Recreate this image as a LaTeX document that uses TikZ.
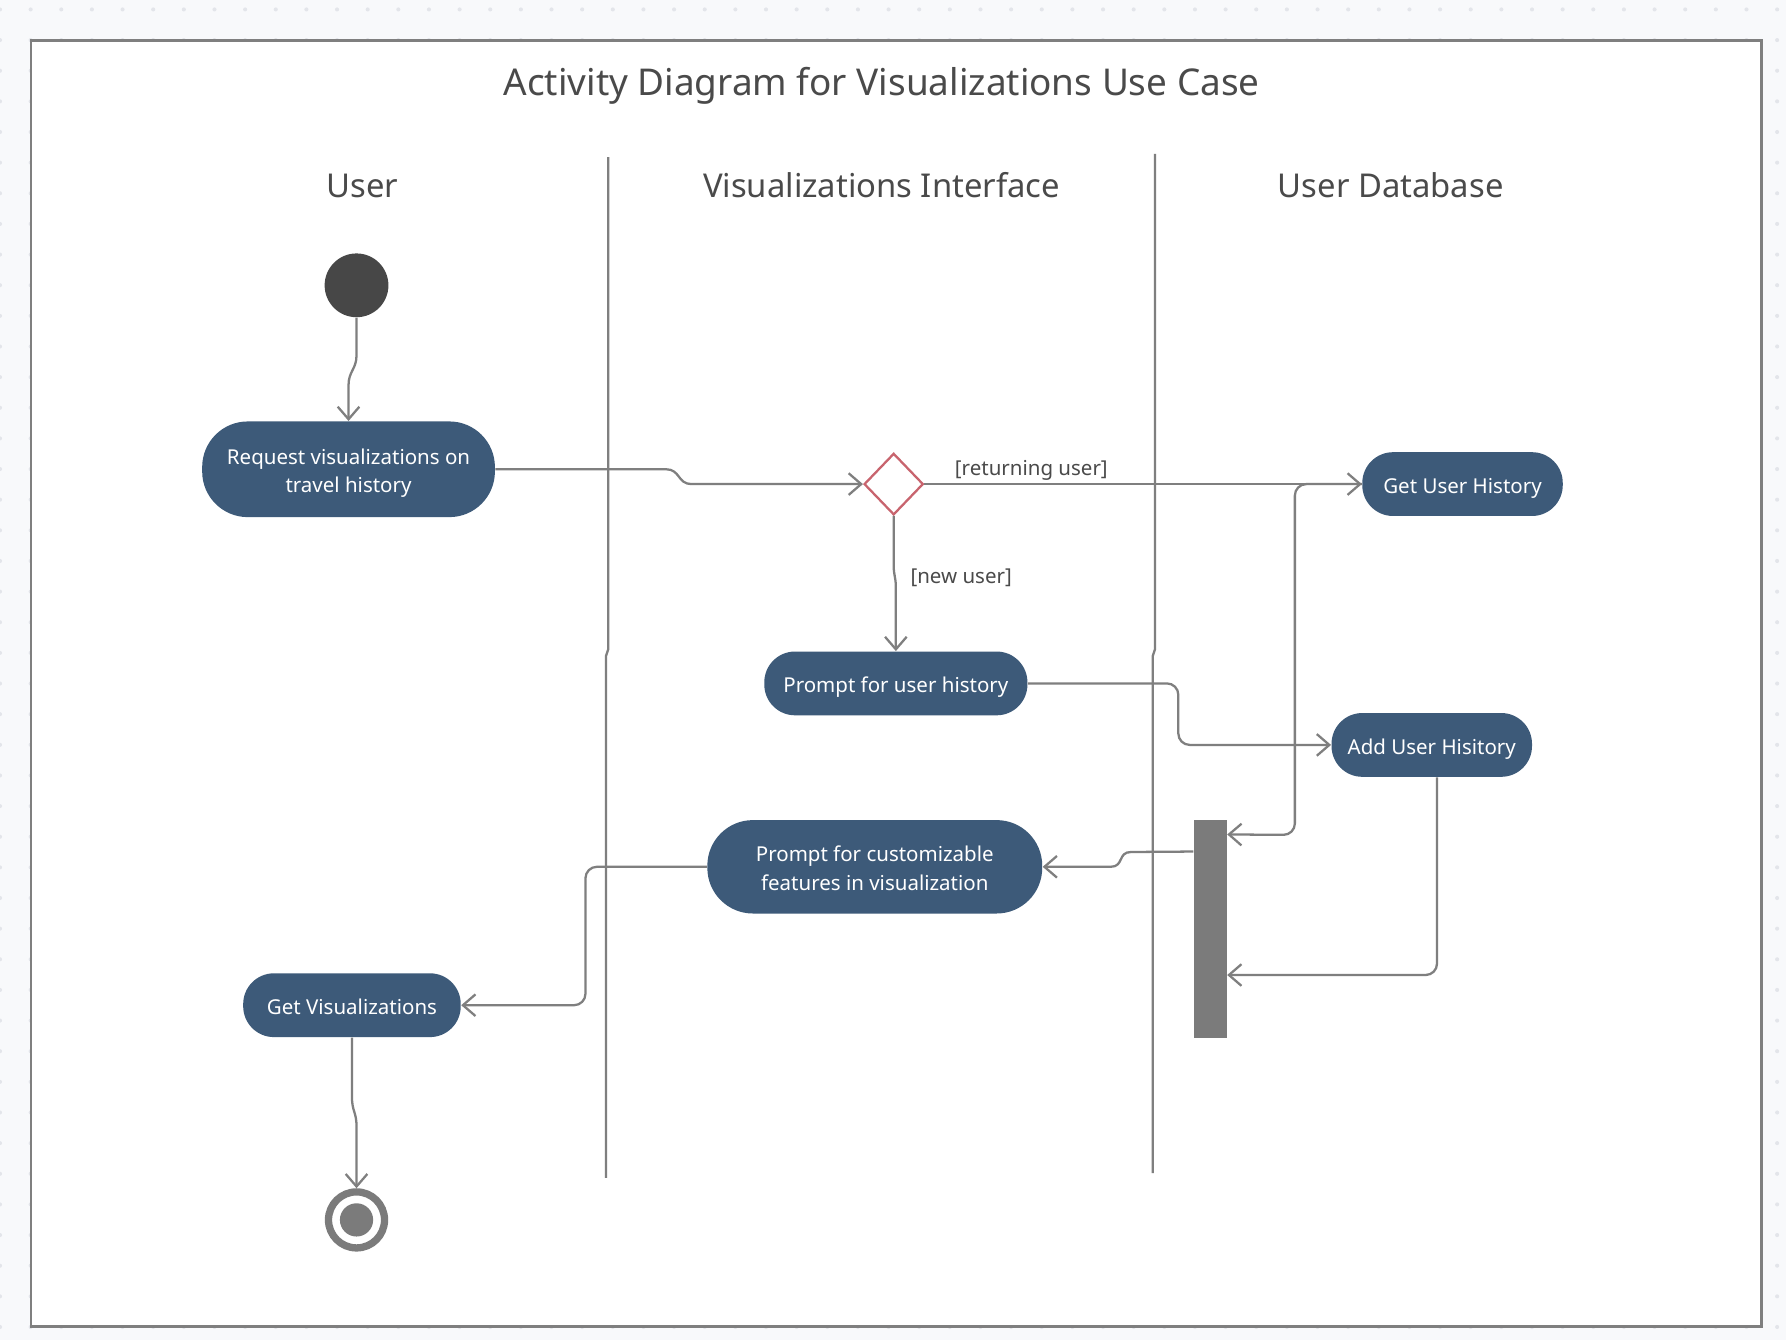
\documentclass[tikz,border=0pt]{standalone}
\usepackage{fontspec}
\setmainfont{Noto Sans}
\usetikzlibrary{arrows.meta,shapes.geometric}
\definecolor{bgc}{HTML}{F8F9FB}
\definecolor{dotc}{HTML}{E3E5EA}
\definecolor{framec}{HTML}{7F7F7F}
\definecolor{actc}{HTML}{3D5A79}
\definecolor{txtc}{HTML}{4A4A4A}
\definecolor{diac}{HTML}{C8646E}
\definecolor{startc}{HTML}{474747}
\definecolor{barc}{HTML}{7B7B7B}
\definecolor{linec}{HTML}{7F7F7F}
\newcommand{\acttext}[1]{\raisebox{-1.5pt}[\height][\depth]{\begin{tabular}{@{}c@{}}#1\end{tabular}}}
\begin{document}
\begin{tikzpicture}[x=0.5pt,y=-0.5pt,
  act/.style={rectangle, fill=actc, text=white, inner sep=0pt,
    font=\fontsize{9}{12.5}\selectfont},
  conn/.style={draw=linec, line width=1pt, -{Straight Barb[length=5.5pt,width=9.5pt]}},
  lane/.style={draw=linec, line width=1pt},
  header/.style={text=txtc, inner sep=0pt, anchor=base, font=\fontsize{14.4}{17}\selectfont},
  guard/.style={text=txtc, inner sep=0pt, anchor=west, font=\fontsize{9}{11}\selectfont}]
% background with dots
\fill[bgc] (0,0) rectangle (1568,1176);
\useasboundingbox (0,0) rectangle (1568,1176);
\foreach \i in {0,...,58}{
  \foreach \j in {0,...,43}{
    \fill[dotc] (\i*26.9, 8.3+\j*26.9) circle (0.9pt);
  }
}
\draw[draw=framec, line width=1.1pt, fill=white] (27,35.7) rectangle (1546.6,1164.7);
% title and lanes
\node[text=txtc, inner sep=0pt, anchor=base, font=\fontsize{16.2}{19}\selectfont] (title) at (774,84) {Activity Diagram for Visualizations Use Case};
\node[header] (hu) at (318,173) {User};
\node[header] (hv) at (774,173) {Visualizations Interface};
\node[header] (hd) at (1221,173) {User Database};
\draw[lane] (534,138) -- (534,570) -- (532,576) -- (532,1034);
\draw[lane] (1014,135) -- (1014,570) -- (1012,576) -- (1012,1030);
% nodes
\node[circle, fill=startc, minimum size=28pt, inner sep=0pt] (start) at (313,250.5) {};
\node[act, minimum width=128.5pt, minimum height=42pt, rounded corners=20pt] (req) at (306,412) {\acttext{Request visualizations on\\travel history}};
\node[diamond, draw=diac, line width=1pt, fill=white, minimum width=26pt, minimum height=27pt, inner sep=0pt] (dia) at (784.6,425) {};
\node[act, minimum width=88pt, minimum height=28pt, rounded corners=13.5pt] (guh) at (1284,425) {\acttext{Get User History}};
\node[act, minimum width=115.5pt, minimum height=28pt, rounded corners=13.5pt] (pfuh) at (786.5,600) {\acttext{Prompt for user history}};
\node[act, minimum width=88pt, minimum height=28pt, rounded corners=13.5pt] (auh) at (1257,654) {\acttext{Add User Hisitory}};
\node[act, minimum width=147pt, minimum height=41pt, rounded corners=20pt] (pcf) at (768,761) {\acttext{Prompt for customizable\\features in visualization}};
\node[act, minimum width=95.5pt, minimum height=28pt, rounded corners=13.5pt] (gv) at (309,882.5) {\acttext{Get Visualizations}};
\node[rectangle, fill=barc, minimum width=14.5pt, minimum height=95.5pt, inner sep=0pt] (bar) at (1062.5,815.5) {};
\node[circle, draw=barc, line width=3.2pt, minimum size=24.6pt, inner sep=0pt] (fin) at (313,1071) {};
\fill[barc] (fin.center) circle (7.3pt);
% guards
\node[guard] (lret) at (838,413) {[returning user]};
\node[guard] (lnew) at (799,507) {[new user]};
% connectors
\draw[conn] (start.south) -- (313,312) .. controls (313,324) and (306,326) .. (306,338) -- (req.north);
\draw[conn] (req.east) -- (585,412) .. controls (597,412) and (595,425) .. (607,425) -- (dia.west);
\draw[conn] (dia.east) -- (guh.west);
\draw[conn] (dia.south) -- (784.6,496) .. controls (784.6,506) and (786.5,506) .. (786.5,516) -- (pfuh.north);
\draw[conn, rounded corners=5pt] (pfuh.east) -- (1034.5,600) -- (1034.5,654) -- (auh.west);
\draw[conn, rounded corners=5pt] (guh.west) -- (1136.8,425) -- (1136.8,733) -- ([yshift=-6.5pt]bar.north east);
\draw[conn, rounded corners=5pt] ([xshift=2.3pt]auh.south) |- ([yshift=27.7pt]bar.south east);
\draw[conn] ([yshift=-14pt]bar.north west) -- (993,748) .. controls (981,748) and (987,761) .. (975,761) -- (pcf.east);
\draw[conn, rounded corners=5pt] (pcf.west) -- (514,761) -- (514,882.5) -- (gv.east);
\draw[conn] (gv.south) -- (309,963) .. controls (309,976) and (313,976) .. (313,989) -- (fin.north);
\end{tikzpicture}
\end{document}
